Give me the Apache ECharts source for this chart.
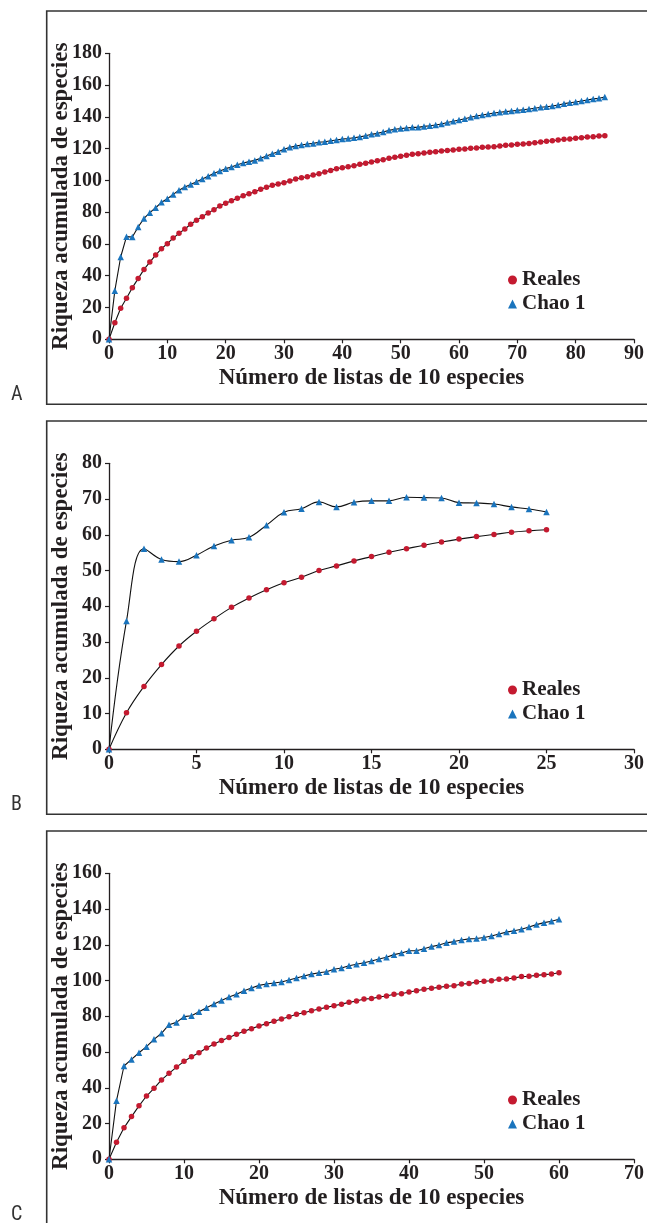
<!DOCTYPE html>
<html>
<head>
<meta charset="utf-8">
<script src="https://cdn.jsdelivr.net/npm/echarts@6/dist/echarts.min.js"></script>
<style>
html,body{margin:0;padding:0;background:#fff;}
#c{width:647px;height:1223px;}
</style>
</head>
<body>
<div id="c"></div>
<script>
// ---- Data ----
const listsA = [0,1,2,3,4,5,6,7,8,9,10,11,12,13,14,15,16,17,18,19,20,21,22,23,24,25,26,27,28,29,30,31,32,33,34,35,36,37,38,39,40,41,42,43,44,45,46,47,48,49,50,51,52,53,54,55,56,57,58,59,60,61,62,63,64,65,66,67,68,69,70,71,72,73,74,75,76,77,78,79,80,81,82,83,84,85];
const realesA = [0,10.4,19.5,25.8,32.5,38.2,44,48.6,53,57,60.2,63.7,66.7,69.4,72.4,74.9,77.2,79.5,81.6,83.9,85.6,87.2,88.7,90.4,91.6,92.9,94.4,95.7,96.9,97.7,98.6,99.6,100.9,101.7,102.3,103.4,104.2,105.3,106.3,107.4,108,108.6,109.2,110.1,110.8,111.6,112.4,113,113.9,114.5,115.2,115.8,116.4,116.8,117.2,117.7,118.1,118.5,118.9,119.1,119.6,119.8,120.2,120.4,120.8,121,121.2,121.6,122.1,122.3,122.7,122.9,123.3,123.7,124.2,124.6,125,125.4,125.9,126.1,126.5,126.9,127.3,127.5,127.9,128.1];
const chaoA = [0,30.6,51.8,64.6,64.4,70.7,76.1,79.7,82.8,86.2,88.5,91.2,93.8,95.8,97.5,99.2,100.9,102.6,104.5,105.9,107.4,108.4,109.9,111,111.8,112.6,113.9,115.4,116.8,118.1,119.6,120.8,121.6,122.3,122.9,123.3,124,124.3,125,125.4,126,126.4,126.9,127.4,128.1,129,129.6,130.5,131.5,132.2,132.6,133,133.4,133.4,134,134.4,134.9,135.5,136.4,137.2,138,138.8,139.7,140.5,141.2,141.8,142.4,142.9,143.3,143.7,144.1,144.5,144.9,145.4,146,146.4,146.8,147.5,148.3,148.9,149.4,150,150.6,151.3,151.7,152.5];

const listsB = [0,1,2,3,4,5,6,7,8,9,10,11,12,13,14,15,16,17,18,19,20,21,22,23,24,25];
const realesB = [0,10.2,17.6,23.7,28.9,33,36.5,39.7,42.3,44.6,46.6,48.1,50,51.3,52.7,53.9,55.1,56.1,57.1,58,58.8,59.5,60.1,60.7,61.1,61.4];
const chaoB = [0,35.9,56.1,53.1,52.5,54.3,56.9,58.5,59.3,62.7,66.3,67.3,69.2,67.8,69.1,69.5,69.5,70.5,70.4,70.3,69,68.9,68.6,67.8,67.2,66.4];

const listsC = [0,1,2,3,4,5,6,7,8,9,10,11,12,13,14,15,16,17,18,19,20,21,22,23,24,25,26,27,28,29,30,31,32,33,34,35,36,37,38,39,40,41,42,43,44,45,46,47,48,49,50,51,52,53,54,55,56,57,58,59,60];
const realesC = [0,9.5,17.6,23.9,29.9,35.4,39.7,44.4,48.1,51.6,54.8,57.4,59.6,62.3,64.5,66.4,68.2,69.9,71.6,73.1,74.6,75.9,77.2,78.5,79.8,81.1,82,83.1,84.1,85,85.9,86.8,87.8,88.6,89.7,89.9,90.8,91.4,92.3,92.6,93.6,94.3,95.1,95.7,96.2,96.8,97.1,98.1,98.3,99.2,99.6,99.9,100.7,100.9,101.4,102.2,102.4,102.9,103.3,103.7,104.4];
const chaoC = [0,32.8,52.2,55.9,59.6,63,67.1,70.5,75.3,76.6,79.8,80.3,82.6,84.8,86.9,88.9,90.8,92.3,94.3,95.8,97.3,98.1,98.6,99.2,100.3,101.4,102.5,103.6,104.4,104.9,106.3,107,108.3,109.1,110,110.9,112.1,113,114.5,115.4,116.7,116.7,117.8,119,119.9,121.1,121.8,122.7,123.3,123.5,124.1,124.9,126,127.1,127.9,128.7,130,131.3,132.4,133.2,134.3];

const panels = [
  {label:'A', xs:listsA, reales:realesA, chao:chaoA, xMax:90, xInt:10, yMax:180, yInt:20, smooth:false},
  {label:'B', xs:listsB, reales:realesB, chao:chaoB, xMax:30, xInt:5, yMax:80, yInt:10, smooth:0.4},
  {label:'C', xs:listsC, reales:realesC, chao:chaoC, xMax:70, xInt:10, yMax:160, yInt:20, smooth:false}
];

const xTitle = 'Número de listas de 10 especies';
const yTitle = 'Riqueza acumulada de especies';

// ---- Chart ----
const FONT = '"Liberation Serif", "Times New Roman", serif';
const INK = '#231f20';
const RED = '#c41a30';
const BLUE = '#1a74bd';
const PANEL_H = 410;

const grids = [], xAxes = [], yAxes = [], series = [], legends = [], graphics = [];

panels.forEach((p, i) => {
  const off = i * PANEL_H;
  grids.push({left:109, right:9.5, top:53.3 + off, height:286, containLabel:false});
  xAxes.push({
    type:'value', gridIndex:i, min:0, max:p.xMax, interval:p.xInt,
    name:xTitle, nameLocation:'middle', nameGap:27, nameMoveOverlap:false,
    nameTextStyle:{fontFamily:FONT, fontWeight:'bold', fontSize:23, color:INK},
    axisLine:{show:true, onZero:false, lineStyle:{color:INK, width:1.3}},
    axisTick:{show:true, length:4, lineStyle:{color:INK, width:1.2}},
    axisLabel:{fontFamily:FONT, fontWeight:'bold', fontSize:20, color:INK, margin:5},
    splitLine:{show:false}
  });
  yAxes.push({
    type:'value', gridIndex:i, min:0, max:p.yMax, interval:p.yInt,
    name:yTitle, nameLocation:'middle', nameGap:36, nameMoveOverlap:false,
    nameTextStyle:{fontFamily:FONT, fontWeight:'bold', fontSize:23, color:INK},
    axisLine:{show:true, lineStyle:{color:INK, width:1.3}},
    axisTick:{show:true, length:4, lineStyle:{color:INK, width:1.2}},
    axisLabel:{fontFamily:FONT, fontWeight:'bold', fontSize:20, color:INK, margin:7},
    splitLine:{show:false}
  });
  series.push({
    name:'Reales', type:'line', xAxisIndex:i, yAxisIndex:i,
    data:p.xs.map((x, k) => [x, p.reales[k]]),
    smooth:p.smooth, symbol:'circle', symbolSize:5.5, showAllSymbol:true,
    lineStyle:{color:'#111', width:1.1},
    itemStyle:{color:RED}, z:3
  });
  series.push({
    name:'Chao 1', type:'line', xAxisIndex:i, yAxisIndex:i,
    data:p.xs.map((x, k) => [x, p.chao[k]]),
    smooth:p.smooth, symbol:'triangle', symbolSize:6.5, showAllSymbol:true,
    lineStyle:{color:'#111', width:1.1},
    itemStyle:{color:BLUE}, z:3
  });
  legends.push({
    orient:'vertical', left:508, top:269.5 + off, padding:0,
    itemWidth:9, itemHeight:9, itemGap:3,
    textStyle:{fontFamily:FONT, fontWeight:'bold', fontSize:21, color:INK},
    data:[{name:'Reales', icon:'circle'}, {name:'Chao 1', icon:'triangle'}],
    selectedMode:false
  });
  graphics.push({
    type:'rect', silent:true,
    shape:{x:46.7, y:11 + off, width:700, height: i < 2 ? 393.3 : 500},
    style:{fill:'none', stroke:'#333', lineWidth:1.6}
  });
  graphics.push({
    type:'text', silent:true, left:11, top:385 + off,
    style:{text:p.label, fontFamily:'"Liberation Sans Narrow", "Roboto Condensed", "DejaVu Sans Condensed", Roboto, sans-serif', fontSize:20, fill:'#333'}
  });
});

const chart = echarts.init(document.getElementById('c'), null, {renderer:'canvas'});
chart.setOption({
  animation:false,
  backgroundColor:'#fff',
  grid:grids, xAxis:xAxes, yAxis:yAxes, series:series, legend:legends, graphic:graphics
});
</script>
</body>
</html>
